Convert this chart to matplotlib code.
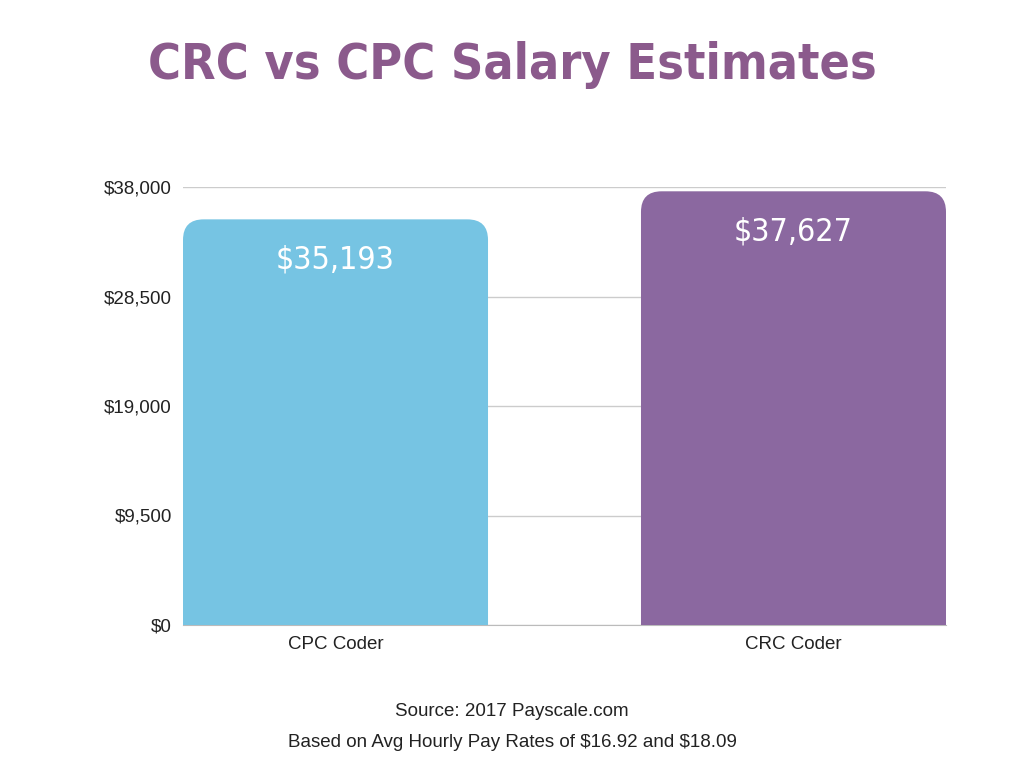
import matplotlib.pyplot as plt
from matplotlib.patches import FancyBboxPatch

plt.rcParams["font.family"] = ["Liberation Sans", "DejaVu Sans"]

categories = ["CPC Coder", "CRC Coder"]
salaries = [35193, 37627]
bar_labels = [r"\$35,193", r"\$37,627"]
yticks = [0, 9500, 19000, 28500, 38000]
ytick_labels = [r"\$0", r"\$9,500", r"\$19,000", r"\$28,500", r"\$38,000"]
colors = ["#76C4E3", "#8B68A0"]

cond = dict(family="DejaVu Sans", fontstretch="condensed")

fig = plt.figure(figsize=(10.24, 7.68), dpi=100)
ax = fig.add_axes([183 / 1024, 1 - 625 / 768, 763 / 1024, 438 / 768])
ax.set_xlim(-0.333, 1.333)
ax.set_ylim(0, 38000)

# rounded tops: extend below zero so the bottom corners get clipped
x_per_px = 1.666 / 763
y_per_px = 38000 / 438
aspect = y_per_px / x_per_px
w = 0.666
for i, (v, c) in enumerate(zip(salaries, colors)):
    p = FancyBboxPatch((i - w / 2, -4000), w, v + 4000,
                       boxstyle="round,pad=0,rounding_size=0.045",
                       mutation_aspect=aspect, fc=c, ec="none", zorder=3)
    ax.add_patch(p)
    ax.annotate(bar_labels[i], (i, v), xytext=(0, -18), textcoords="offset points",
                ha="center", va="top", color="white", fontsize=23, zorder=4, **cond)

ax.set_yticks(yticks)
ax.set_yticklabels(ytick_labels, fontsize=13.5, color="#222222")
ax.set_xticks([0, 1])
ax.set_xticklabels(categories, fontsize=13.5, color="#222222")
ax.tick_params(length=0, pad=8)
ax.grid(axis="y", color="#cccccc", lw=1, zorder=0)
for s in ["top", "right", "left"]:
    ax.spines[s].set_visible(False)
ax.spines["bottom"].set_color("#bbbbbb")

fig.text(0.5, 0.915, "CRC vs CPC Salary Estimates", ha="center", va="center",
         fontsize=36, fontweight="bold", color="#8B5A8C", **cond)
fig.text(0.5, 0.073, "Source: 2017 Payscale.com", ha="center", va="center",
         fontsize=13.5, color="#222222")
fig.text(0.5, 0.033, r"Based on Avg Hourly Pay Rates of \$16.92 and \$18.09",
         ha="center", va="center", fontsize=13.5, color="#222222")

fig.savefig("out.png", dpi=100)
